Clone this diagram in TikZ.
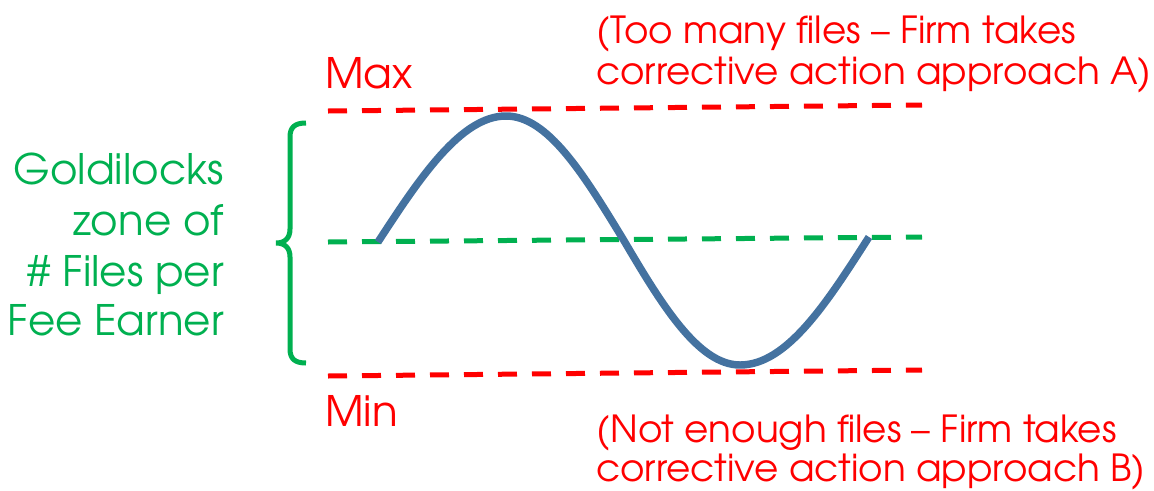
\documentclass[tikz,border=0pt]{standalone}
\usepackage{fontspec}
\setmainfont{TeX Gyre Adventor}
\definecolor{lred}{RGB}{255,0,0}
\definecolor{lgreen}{RGB}{0,176,80}
\definecolor{lblue}{RGB}{68,114,160}
\begin{document}
\begin{tikzpicture}[x=0.75pt,y=-0.75pt,
  redtxt/.style={text=lred,font=\fontsize{28}{34}\selectfont,inner sep=0pt,anchor=base west},
  limittxt/.style={text=lred,font=\fontsize{31.5}{38}\selectfont,inner sep=0pt,anchor=base west},
  greentxt/.style={text=lgreen,font=\fontsize{31.5}{38}\selectfont,inner sep=0pt,anchor=base east},
  limitline/.style={draw=lred,line width=3.75pt,dash pattern=on 14.25pt off 11.25pt},
  midline/.style={draw=lgreen,line width=3.75pt,dash pattern=on 14.25pt off 11.25pt},
  wave/.style={draw=lblue,line width=5.6pt},
  bracestyle/.style={draw=lgreen,line width=3.75pt}]
\useasboundingbox (0,0) rectangle (1154,490);
% limit lines
\coordinate (maxL) at (328,111); \coordinate (maxR) at (922,105);
\coordinate (midL) at (328,242); \coordinate (midR) at (922,237);
\coordinate (minL) at (328,376); \coordinate (minR) at (922,370);
\draw[limitline] (maxL) -- (maxR);
\draw[midline] (midL) -- (midR);
\draw[limitline] (minL) -- (minR);
% wave
\coordinate (w0) at (378,242);
\coordinate (w1) at (506,116);
\coordinate (w2) at (623,239);
\coordinate (w3) at (740,365);
\coordinate (w4) at (869,237);
\draw[wave] (w0) .. controls (420,177.5) and (461,116) .. (w1)
  .. controls (548,116) and (584,175) .. (w2)
  .. controls (661,303.5) and (698,365) .. (w3)
  .. controls (787,365) and (827,302.6) .. (w4);
% brace
\draw[bracestyle] (306,123) .. controls (295,123) and (290,127) .. (290,137) -- (290,229)
  .. controls (290,238) and (285,243) .. (276,243)
  .. controls (285,243) and (290,248) .. (290,257) -- (290,349)
  .. controls (290,359) and (295,363) .. (306,363);
% texts
\node[limittxt] (max) at (325,88) {Max};
\node[limittxt] (min) at (325,426) {Min};
\node[redtxt] (tooA1) at (596,43) {(Too many files – Firm takes};
\node[redtxt] (tooA2) at (596,84) {corrective action approach A)};
\node[redtxt] (notB1) at (596,442) {(Not enough files – Firm takes};
\node[redtxt] (notB2) at (596,481) {corrective action approach B)};
\node[greentxt] (g1) at (224,184) {Goldilocks};
\node[greentxt] (g2) at (224,235) {zone of};
\node[greentxt] (g3) at (224,286) {\# Files per};
\node[greentxt] (g4) at (224,335) {Fee Earner};
\end{tikzpicture}
\end{document}
